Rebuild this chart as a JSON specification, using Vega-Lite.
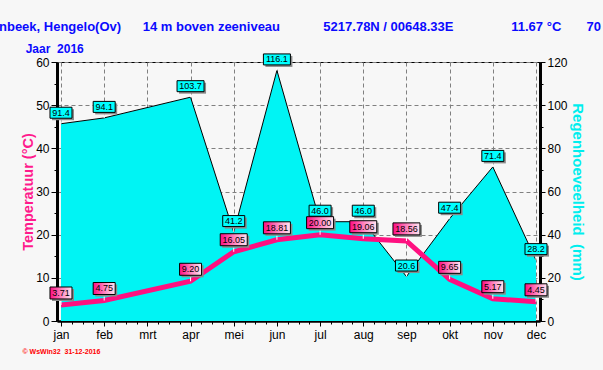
{
  "$schema": "https://vega.github.io/schema/vega-lite/v6.json",
  "width": 483,
  "height": 259,
  "autosize": {"type": "none"},
  "padding": {"left": 57, "top": 62, "right": 63, "bottom": 49},
  "background": "#f7f7f7",
  "config": {
    "view": {"stroke": "black", "strokeWidth": 1},
    "axis": {"labelFont": "Liberation Sans", "labelFontSize": 12, "labelColor": "black", "tickColor": "black", "domainColor": "black", "gridColor": "#808080", "gridDash": [4, 3], "gridWidth": 1}
  },
  "title": {
    "text": "nbeek, Hengelo(Ov)\u00a0\u00a0\u00a0\u00a0\u00a0\u00a014 m boven zeeniveau\u00a0\u00a0\u00a0\u00a0\u00a0\u00a0\u00a0\u00a0\u00a0\u00a0\u00a0\u00a05217.78N / 00648.33E\u00a0\u00a0\u00a0\u00a0\u00a0\u00a0\u00a0\u00a0\u00a0\u00a0\u00a0\u00a0\u00a0\u00a0\u00a0\u00a011.67 °C\u00a0\u00a0\u00a0\u00a0\u00a0\u00a0\u00a070",
    "subtitle": "\u200b\u00a0\u00a0\u00a0\u00a0\u00a0\u00a0\u00a0\u00a0Jaar\u00a0\u00a02016",
    "anchor": "start",
    "frame": "group",
    "dx": -58,
    "offset": -3,
    "font": "Liberation Sans",
    "fontSize": 13,
    "fontWeight": "bold",
    "color": "#0a0aff",
    "subtitleFont": "Liberation Sans",
    "subtitleFontSize": 12,
    "subtitleFontWeight": "bold",
    "subtitleColor": "#0a0aff",
    "subtitlePadding": 9.5
  },
  "data": {
    "values": [
      {"m": 1, "month": "jan", "rain": 91.4, "temp": 3.71},
      {"m": 2, "month": "feb", "rain": 94.1, "temp": 4.75},
      {"m": 4, "month": "apr", "rain": 103.7, "temp": 9.20},
      {"m": 5, "month": "mei", "rain": 41.2, "temp": 16.05},
      {"m": 6, "month": "jun", "rain": 116.1, "temp": 18.81},
      {"m": 7, "month": "jul", "rain": 46.0, "temp": 20.00},
      {"m": 8, "month": "aug", "rain": 46.0, "temp": 19.06},
      {"m": 9, "month": "sep", "rain": 20.6, "temp": 18.56},
      {"m": 10, "month": "okt", "rain": 47.4, "temp": 9.65},
      {"m": 11, "month": "nov", "rain": 71.4, "temp": 5.17},
      {"m": 12, "month": "dec", "rain": 28.2, "temp": 4.45}
    ]
  },
  "encoding": {
    "x": {
      "field": "m",
      "type": "quantitative",
      "scale": {"domain": [0.9074, 12.0926], "nice": false, "zero": false},
      "axis": {
        "values": [1, 1.25, 1.5, 1.75, 2, 2.25, 2.5, 2.75, 3, 3.25, 3.5, 3.75, 4, 4.25, 4.5, 4.75, 5, 5.25, 5.5, 5.75, 6, 6.25, 6.5, 6.75, 7, 7.25, 7.5, 7.75, 8, 8.25, 8.5, 8.75, 9, 9.25, 9.5, 9.75, 10, 10.25, 10.5, 10.75, 11, 11.25, 11.5, 11.75, 12],
        "labelExpr": "datum.value % 1 == 0 ? ['jan','feb','mrt','apr','mei','jun','jul','aug','sep','okt','nov','dec'][datum.value - 1] : ''",
        "labelOverlap": false,
        "labelFlush": false,
        "labelPadding": 3,
        "tickSize": {"condition": {"test": "datum.value % 1 == 0", "value": 5}, "value": 3},
        "grid": true,
        "gridOpacity": {"condition": {"test": "datum.value % 1 == 0", "value": 1}, "value": 0},
        "domainWidth": 2.5,
        "title": "© WsWin32\u00a0\u00a031-12-2016",
        "titleX": -35,
        "titleY": 32,
        "titleAnchor": "start",
        "titleAlign": "left",
        "titleBaseline": "alphabetic",
        "titleColor": "#ff0000",
        "titleFont": "Liberation Sans",
        "titleFontSize": 7,
        "titleFontWeight": "bold"
      }
    }
  },
  "layer": [
    {
      "encoding": {
        "y": {
          "field": "rain",
          "type": "quantitative",
          "scale": {"domain": [0, 120], "nice": false},
          "axis": {
            "orient": "right",
            "values": [0, 10, 20, 30, 40, 50, 60, 70, 80, 90, 100, 110, 120],
            "labelExpr": "datum.value % 20 == 0 ? datum.label : ''",
            "labelOverlap": false,
            "labelFlush": false,
            "labelPadding": 2,
            "tickSize": {"condition": {"test": "datum.value % 20 == 0", "value": 5}, "value": 3},
            "grid": false,
            "domainWidth": 3,
            "title": "Regenhoeveelheid\u00a0\u00a0(mm)",
            "titleAngle": 90,
            "titleX": 32,
            "titleY": 129.5,
            "titleAlign": "center",
            "titleBaseline": "alphabetic",
            "titleColor": "#00eeee",
            "titleFont": "Liberation Sans",
            "titleFontSize": 15,
            "titleFontWeight": "bold"
          }
        }
      },
      "layer": [
        {"mark": {"type": "area", "orient": "vertical", "color": "#00f4f4", "opacity": 1, "line": {"color": "black", "strokeWidth": 1}}},
        {"mark": {"type": "tick", "orient": "vertical", "color": "white", "size": 6, "thickness": 1, "yOffset": -3, "opacity": 1}},
        {
          "mark": {"type": "point", "filled": true, "color": "#8a8a8a", "opacity": 1, "xOffset": 2, "yOffset": -9},
          "encoding": {
            "shape": {"condition": {"test": "datum.rain >= 100", "value": "M-1,-0.407H1V0.407H-1Z"}, "value": "M-1,-0.5H1V0.5H-1Z"},
            "size": {"condition": {"test": "datum.rain >= 100", "value": 729}, "value": 484}
          }
        },
        {
          "mark": {"type": "point", "filled": true, "fill": "#00ffff", "stroke": "black", "strokeWidth": 1, "opacity": 1, "yOffset": -11},
          "encoding": {
            "shape": {"condition": {"test": "datum.rain >= 100", "value": "M-1,-0.407H1V0.407H-1Z"}, "value": "M-1,-0.5H1V0.5H-1Z"},
            "size": {"condition": {"test": "datum.rain >= 100", "value": 729}, "value": 484}
          }
        },
        {
          "mark": {"type": "text", "font": "Liberation Sans", "fontSize": 9, "color": "black", "baseline": "middle", "yOffset": -11},
          "encoding": {"text": {"field": "rain", "type": "quantitative", "format": ".1f"}}
        }
      ]
    },
    {
      "encoding": {
        "y": {
          "field": "temp",
          "type": "quantitative",
          "scale": {"domain": [0, 60], "nice": false},
          "axis": {
            "orient": "left",
            "values": [0, 5, 10, 15, 20, 25, 30, 35, 40, 45, 50, 55, 60],
            "labelExpr": "datum.value % 10 == 0 ? datum.label : ''",
            "labelOverlap": false,
            "labelFlush": false,
            "labelPadding": 2,
            "tickSize": {"condition": {"test": "datum.value % 10 == 0", "value": 6}, "value": 3},
            "grid": true,
            "gridOpacity": {"condition": {"test": "datum.value % 10 == 0", "value": 1}, "value": 0},
            "domainWidth": 3,
            "title": "Temperatuur (°C)",
            "titleAngle": -90,
            "titleX": -24.5,
            "titleY": 129.5,
            "titleAlign": "center",
            "titleBaseline": "alphabetic",
            "titleColor": "#ff1a8c",
            "titleFont": "Liberation Sans",
            "titleFontSize": 14.5,
            "titleFontWeight": "bold"
          }
        }
      },
      "layer": [
        {"mark": {"type": "line", "color": "#ff1080", "strokeWidth": 5}},
        {"mark": {"type": "tick", "orient": "vertical", "color": "white", "size": 6, "thickness": 1, "yOffset": -3, "opacity": 1}},
        {
          "mark": {"type": "point", "filled": true, "color": "#8a8a8a", "opacity": 1, "xOffset": 2, "yOffset": -10},
          "encoding": {
            "shape": {"condition": {"test": "datum.temp >= 10", "value": "M-1,-0.444H1V0.444H-1Z"}, "value": "M-1,-0.545H1V0.545H-1Z"},
            "size": {"condition": {"test": "datum.temp >= 10", "value": 729}, "value": 484}
          }
        },
        {
          "mark": {
            "type": "point",
            "filled": true,
            "fill": {"gradient": "linear", "x1": 0, "y1": 0, "x2": 1, "y2": 0, "stops": [{"offset": 0, "color": "#ff0a82"}, {"offset": 0.55, "color": "#ff8cc4"}, {"offset": 1, "color": "#ffe6f2"}]},
            "stroke": "black",
            "strokeWidth": 1,
            "opacity": 1,
            "yOffset": -12
          },
          "encoding": {
            "shape": {"condition": {"test": "datum.temp >= 10", "value": "M-1,-0.444H1V0.444H-1Z"}, "value": "M-1,-0.545H1V0.545H-1Z"},
            "size": {"condition": {"test": "datum.temp >= 10", "value": 729}, "value": 484}
          }
        },
        {
          "mark": {"type": "text", "font": "Liberation Sans", "fontSize": 9, "color": "black", "baseline": "middle", "yOffset": -12},
          "encoding": {"text": {"field": "temp", "type": "quantitative", "format": ".2f"}}
        }
      ]
    }
  ],
  "resolve": {"scale": {"y": "independent"}}
}
